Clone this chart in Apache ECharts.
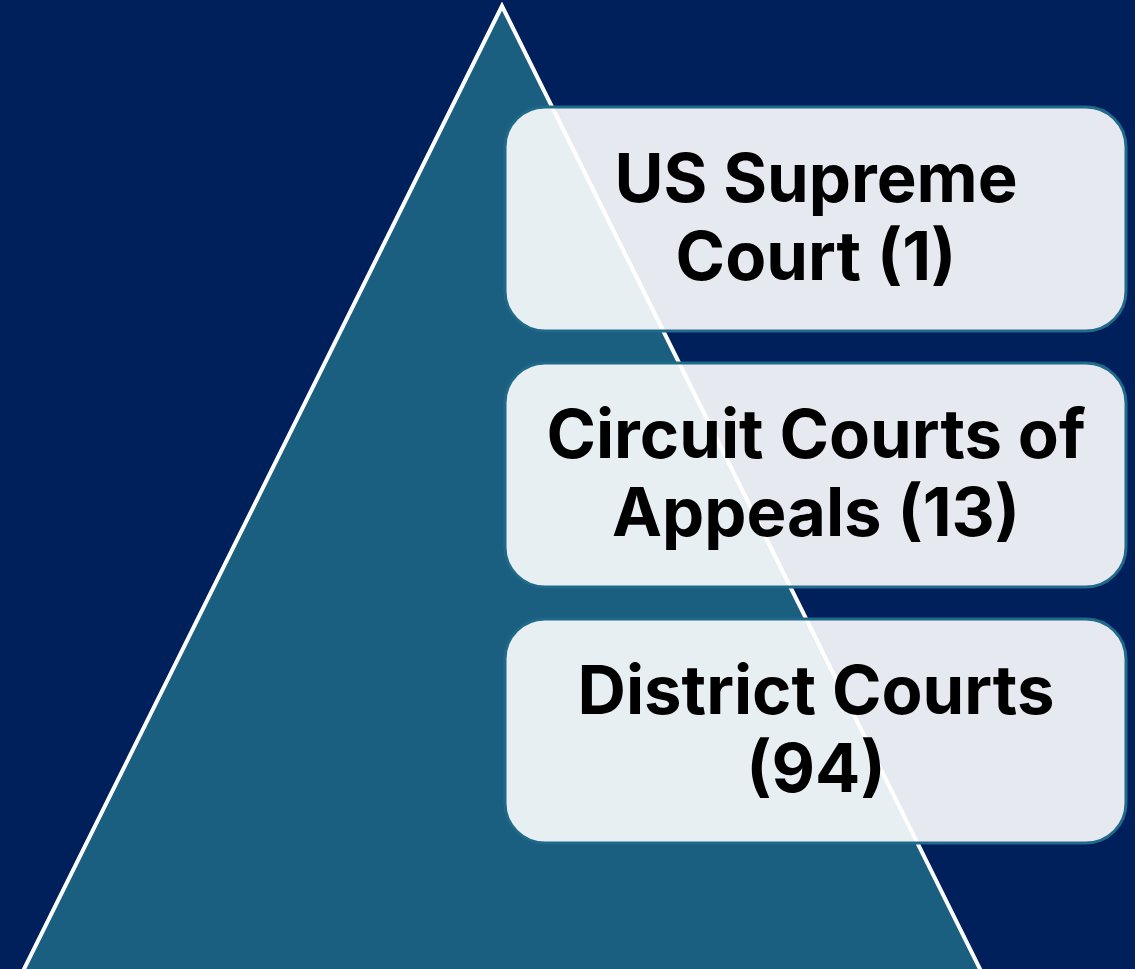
<!DOCTYPE html>
<html>
<head>
<meta charset="utf-8">
<script src="https://cdn.jsdelivr.net/npm/echarts@6/dist/echarts.min.js"></script>
<style>
  html, body { margin: 0; padding: 0; background: #00205B; }
  #myChart { width: 1135px; height: 969px; }
</style>
</head>
<body>
<div id="myChart"></div>
<script>
  // court levels, top to bottom
  let courtNames = ['US Supreme\nCourt', 'Circuit Courts of\nAppeals', 'District Courts\n'];
  let courtCounts = [1, 13, 94];

  let colors = {
    bg: '#00205B',
    triangle: '#1A5E80',
    boxBorder: '#1F6A8A',
    boxFill: 'rgba(255,255,255,0.9)'
  };

  let boxTops = [107, 363, 619];
  let boxH = 224;

  let elements = [];
  // big triangle
  elements.push({
    type: 'polygon',
    shape: { points: [[502, 6], [13.6, 990], [990.4, 990]] },
    style: { fill: colors.triangle, stroke: '#ffffff', lineWidth: 4 },
    z: 1
  });

  for (let i = 0; i < courtNames.length; i++) {
    let name = courtNames[i];
    let label = name + (name.endsWith('\n') ? '' : ' ') + '(' + courtCounts[i] + ')';
    elements.push({
      type: 'rect',
      shape: { x: 505, y: boxTops[i], width: 621, height: boxH, r: 40 },
      style: { fill: colors.boxFill, stroke: colors.boxBorder, lineWidth: 3 },
      z: 2
    });
    elements.push({
      type: 'text',
      x: 816,
      y: boxTops[i] + boxH / 2 + 2,
      style: {
        text: label,
        fill: '#000000',
        font: 'bold 67px Inter',
        align: 'center',
        verticalAlign: 'middle',
        lineHeight: 78
      },
      z: 3
    });
  }

  let option = {
    backgroundColor: colors.bg,
    animation: false,
    graphic: { elements: elements }
  };

  let myChart = echarts.init(document.getElementById('myChart'));
  myChart.setOption(option);
</script>
</body>
</html>
